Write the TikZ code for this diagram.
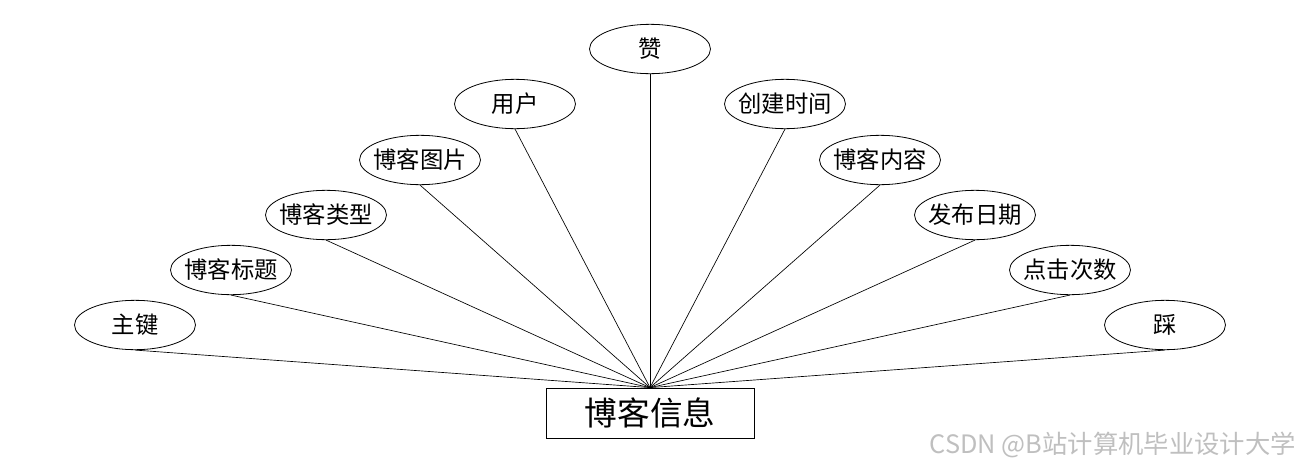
\documentclass[tikz,border=0pt]{standalone}
\usepackage{fontspec}
\setmainfont{Noto Sans CJK SC}
\usepackage{tikz}
\usetikzlibrary{shapes.geometric}

\tikzset{
	attr/.style={draw=black, ellipse, line width=0.6pt, minimum width=90.75pt, minimum height=37pt, inner xsep=-5pt, inner ysep=0pt, font=\fontsize{17.5}{19}\selectfont},
	entity/.style={draw=black, rectangle, line width=0.6pt, minimum width=156pt, minimum height=37.5pt, inner sep=0pt, font=\fontsize{24.5}{28}\selectfont},
	link/.style={black, line width=0.5pt}
}

\begin{document}
\begin{tikzpicture}[x=0.75pt, y=-0.75pt]
			\useasboundingbox (0,0) rectangle (1300,468);

			% --- Entity ---
			\node[entity] (blog) at (650, 413) {博客信息};

			% --- Attributes, left side ---
			\node[attr] (pk)    at (135, 325) {主键};
			\node[attr] (title) at (231, 270) {博客标题};
			\node[attr] (btype) at (326, 215) {博客类型};
			\node[attr] (pic)   at (420, 160) {博客图片};
			\node[attr] (user)  at (515, 104) {用户};

			% --- Attribute, top ---
			\node[attr] (like)  at (650, 49) {赞};

			% --- Attributes, right side ---
			\node[attr] (ctime)   at (785, 104) {创建时间};
			\node[attr] (content) at (880, 160) {博客内容};
			\node[attr] (pdate)   at (975, 215) {发布日期};
			\node[attr] (clicks)  at (1070, 270) {点击次数};
			\node[attr] (dislike) at (1165, 325) {踩};

			% --- Links ---
			\draw[link] (pk.south)      -- (blog.north);
			\draw[link] (title.south)   -- (blog.north);
			\draw[link] (btype.south)   -- (blog.north);
			\draw[link] (pic.south)     -- (blog.north);
			\draw[link] (user.south)    -- (blog.north);
			\draw[link] (like.south)    -- (blog.north);
			\draw[link] (ctime.south)   -- (blog.north);
			\draw[link] (content.south) -- (blog.north);
			\draw[link] (pdate.south)   -- (blog.north);
			\draw[link] (clicks.south)  -- (blog.north);
			\draw[link] (dislike.south) -- (blog.north);

			% --- Watermark ---
			\node[anchor=east, text=black!25, font=\fontsize{19}{21}\selectfont, inner sep=0pt] (mark) at (1296, 445) {CSDN @B站计算机毕业设计大学};
		\end{tikzpicture}
\end{document}
